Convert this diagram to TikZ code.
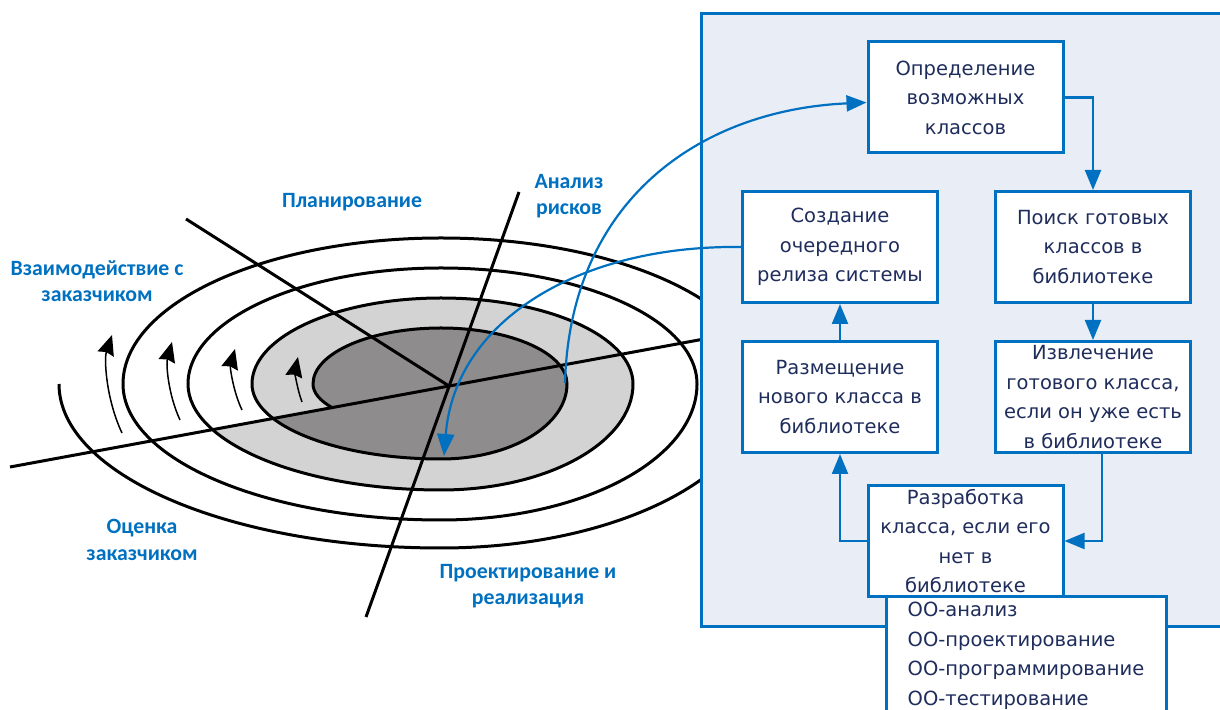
\documentclass[tikz,border=0pt]{standalone}
\usepackage{fontspec}
\setmainfont{DejaVu Sans}
\newfontfamily\lblfont{Carlito}
\usetikzlibrary{arrows.meta,calc}
\definecolor{mblue}{HTML}{0070C0}
\definecolor{navy}{HTML}{1F2D5C}
\definecolor{panelbg}{HTML}{E9EEF6}
\definecolor{lgray}{HTML}{D3D3D3}
\definecolor{dgray}{HTML}{8E8C8D}
\begin{document}
\begin{tikzpicture}[x=1pt,y=1pt,
  box/.style={draw=mblue, line width=3pt, fill=white, minimum width=195pt, minimum height=111pt, inner sep=0pt, align=center, text=navy, font=\fontsize{19.5}{29.5}\selectfont},
  lbl/.style={text=mblue, align=center, font=\lblfont\bfseries\fontsize{21.8}{26.5}\selectfont},
  conn/.style={draw=mblue, line width=2.2pt, -{Triangle[length=20pt,width=16pt]}},
  blk/.style={line width=3pt, draw=black, line join=round},
  turnarrow/.style={draw=black, line width=1.5pt, -{Stealth[length=20pt,width=17pt,inset=2pt]}}
]
\useasboundingbox (0,0) rectangle (1220,709);
\clip (0,0) rectangle (1220,709);

% spiral geometry
\coordinate (C) at (441,325);
\coordinate (S) at ($(C)+(-148:128 and 45)$);
\coordinate (P1) at ($(C)+(-152:189 and 75)$);
\coordinate (P2) at ($(C)+(-154.7:253 and 106)$);

\fill[lgray] (P1) arc[start angle=-152,end angle=-180,x radius=189,y radius=75]
  arc[start angle=180,end angle=90,x radius=189,y radius=86]
  arc[start angle=90,end angle=0,x radius=192,y radius=86]
  arc[start angle=0,end angle=-90,x radius=192,y radius=106]
  arc[start angle=-90,end angle=-154.7,x radius=253,y radius=106] -- cycle;

\fill[dgray] (S) arc[start angle=-148,end angle=-180,x radius=128,y radius=45]
  arc[start angle=180,end angle=90,x radius=128,y radius=56]
  arc[start angle=90,end angle=0,x radius=126,y radius=56]
  arc[start angle=0,end angle=-90,x radius=126,y radius=75]
  arc[start angle=-90,end angle=-152,x radius=189,y radius=75] -- cycle;

% axes
\coordinate (hL) at (10,242);
\coordinate (hR) at (715,372);
\coordinate (vT) at (519,517);
\coordinate (vB) at (366,92);
\coordinate (dT) at (186,490);
\coordinate (O) at (449,323);
\draw[blk] (hL) -- (hR);
\draw[blk] (vT) -- (vB);
\draw[blk] (dT) -- (O);

% spiral stroke
\draw[blk] (S) arc[start angle=-148,end angle=-180,x radius=128,y radius=45]
  arc[start angle=180,end angle=90,x radius=128,y radius=56]
  arc[start angle=90,end angle=0,x radius=126,y radius=56]
  arc[start angle=0,end angle=-90,x radius=126,y radius=75]
  arc[start angle=-90,end angle=-180,x radius=189,y radius=75]
  arc[start angle=180,end angle=90,x radius=189,y radius=86]
  arc[start angle=90,end angle=0,x radius=192,y radius=86]
  arc[start angle=0,end angle=-90,x radius=192,y radius=106]
  arc[start angle=-90,end angle=-180,x radius=253,y radius=106]
  arc[start angle=180,end angle=90,x radius=253,y radius=116]
  arc[start angle=90,end angle=0,x radius=256,y radius=116]
  arc[start angle=0,end angle=-90,x radius=256,y radius=136]
  arc[start angle=-90,end angle=-180,x radius=318,y radius=136]
  arc[start angle=180,end angle=90,x radius=318,y radius=146]
  arc[start angle=90,end angle=0,x radius=320,y radius=146]
  arc[start angle=0,end angle=-90,x radius=320,y radius=164]
  arc[start angle=-90,end angle=-180,x radius=382,y radius=164];

% direction arrows
\coordinate (a1s) at (122,276); \coordinate (a1e) at (112,374);
\coordinate (a2s) at (180,289); \coordinate (a2e) at (172,367);
\coordinate (a3s) at (242,299); \coordinate (a3e) at (235,360);
\coordinate (a4s) at (302,307); \coordinate (a4e) at (298,352);
\draw[turnarrow] (a1s) .. controls (106,310) and (104,350) .. (a1e);
\draw[turnarrow] (a2s) .. controls (168,315) and (166,345) .. (a2e);
\draw[turnarrow] (a3s) .. controls (233,318) and (230,342) .. (a3e);
\draw[turnarrow] (a4s) .. controls (297,320) and (295,338) .. (a4e);

% labels
\node[lbl] (plan) at (352,507) {Планирование};
\node[lbl] (risk) at (569,513) {Анализ\\рисков};
\node[lbl] (cust) at (97,428) {Взаимодействие с\\заказчиком};
\node[lbl] (eval) at (142,169) {Оценка\\заказчиком};
\node[lbl] (impl) at (528,123) {Проектирование и\\реализация};

% panel
\draw[draw=mblue, line width=3pt, fill=panelbg] (701.5,82) rectangle (1240,695.5);

% boxes
\node[box] (B1) at (965.5,611.5) {Определение\\возможных\\классов};
\node[box] (B2) at (840,462) {Создание\\очередного\\релиза системы};
\node[box] (B3) at (1093,462) {Поиск готовых\\классов в\\библиотеке};
\node[box] (B4) at (840,312) {Размещение\\нового класса в\\библиотеке};
\node[box] (B5) at (1093,312) {Извлечение\\готового класса,\\если он уже есть\\в библиотеке};
\node[box] (B6) at (965.5,168) {Разработка\\класса, если его\\нет в\\библиотеке};
\node[box, anchor=north west, align=left, minimum width=280pt, minimum height=118pt] (B7) at (884.5,113.5) {ОО-анализ\\ОО-проектирование\\ОО-программирование\\ОО-тестирование};

% connectors
\draw[conn] (B1.east) -| (B3.north);
\draw[conn] (B3.south) -- (B5.north);
\draw[conn] ([xshift=9pt]B5.south) |- (B6.east);
\draw[conn] (B6.west) -| (B4.south);
\draw[conn] (B4.north) -- (B2.south);

% curves between spiral and panel
\coordinate (s1) at (565,326);
\coordinate (e2) at (444,253);
\draw[conn] (s1) .. controls (570,509) and (700,599) .. ([yshift=-5pt]B1.west);
\draw[conn, -{Triangle[length=22pt,width=17pt]}] (B2.west) .. controls (580,464) and (455,389) .. (e2);
\end{tikzpicture}
\end{document}
